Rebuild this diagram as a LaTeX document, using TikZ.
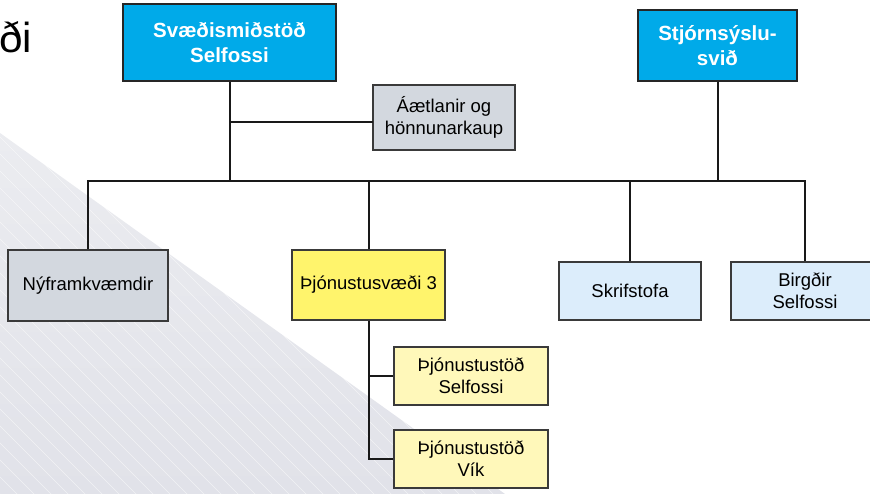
\documentclass[tikz,border=0pt]{standalone}
\usepackage{fontspec}
\setmainfont{Liberation Sans}
\definecolor{titlefill}{HTML}{00AAE9}
\definecolor{grayfill}{HTML}{D3D8DF}
\definecolor{yelfill}{HTML}{FFF46C}
\definecolor{ltyelfill}{HTML}{FFF8BA}
\definecolor{ltbluefill}{HTML}{DCEDFB}
\definecolor{boxline}{HTML}{3A3A3A}
\definecolor{bgtop}{HTML}{EBECF0}
\definecolor{bgbot}{HTML}{E1E2E9}
\tikzset{
  orgbox/.style={draw=boxline, line width=1.4pt, align=center, inner sep=0pt,
    font=\fontsize{18.5}{22}\selectfont},
  titlebox/.style={orgbox, draw=black!85, fill=titlefill, text=white,
    font=\fontsize{20.5}{24.5}\selectfont\bfseries},
  link/.style={draw=black!90, line width=2pt}
}
\begin{document}
\begin{tikzpicture}[x=1pt,y=-1pt]
\useasboundingbox (0,0) rectangle (870,494);
\clip (0,0) rectangle (870,494);
% background decoration
\begin{scope}
  \clip (0,133) -- (505,494) -- (0,494) -- cycle;
  \shade[top color=bgtop, bottom color=bgbot] (0,133) rectangle (505,494);
  \foreach \i in {-32,...,32}
    \draw[white, line width=0.4pt, opacity=0.55] ({\i*17},120) -- ++(420,420);
\end{scope}
% cut-off title fragment
\node[anchor=base east, inner sep=0pt, font=\fontsize{42}{50}\selectfont] (frag) at (32.5,53) {ði};
% nodes
\node[titlebox, minimum width=213pt, minimum height=77pt] (A) at (229.5,42.5) {Svæðismiðstöð\\Selfossi};
\node[titlebox, minimum width=159pt, minimum height=71pt] (B) at (717.5,45.5) {Stjórnsýslu-\\svið};
\node[orgbox, fill=grayfill, minimum width=142pt, minimum height=65pt] (C) at (444,117.5) {Áætlanir og\\hönnunarkaup};
\node[orgbox, fill=grayfill, minimum width=160pt, minimum height=71pt] (D) at (88,285.5) {Nýframkvæmdir};
\node[orgbox, fill=yelfill, minimum width=153pt, minimum height=70pt] (E) at (368.5,285) {Þjónustusvæði 3};
\node[orgbox, fill=ltyelfill, minimum width=154pt, minimum height=58pt] (F) at (471,376) {Þjónustustöð\\Selfossi};
\node[orgbox, fill=ltyelfill, minimum width=154pt, minimum height=58pt] (G) at (471,459) {Þjónustustöð\\Vík};
\node[orgbox, fill=ltbluefill, minimum width=142pt, minimum height=58pt] (H) at (630,291) {Skrifstofa};
\node[orgbox, fill=ltbluefill, minimum width=148pt, minimum height=58pt] (I) at (805,291) {Birgðir\\Selfossi};
% helper coordinates
\coordinate (bus) at (0,181);
\coordinate (cin) at (373,122);
% connectors
\draw[link] (A.south) -- (A.south |- bus);
\draw[link] (A.south |- cin) -- (cin);
\draw[link] (B.south) -- (B.south |- bus);
\draw[link] (D.north) -- (D.north |- bus) -- (I.north |- bus) -- (I.north);
\draw[link] (E.north) -- (E.north |- bus);
\draw[link] (H.north) -- (H.north |- bus);
\draw[link] (E.south) |- (G.west);
\draw[link] (E.south |- F.west) -- (F.west);
\end{tikzpicture}
\end{document}
